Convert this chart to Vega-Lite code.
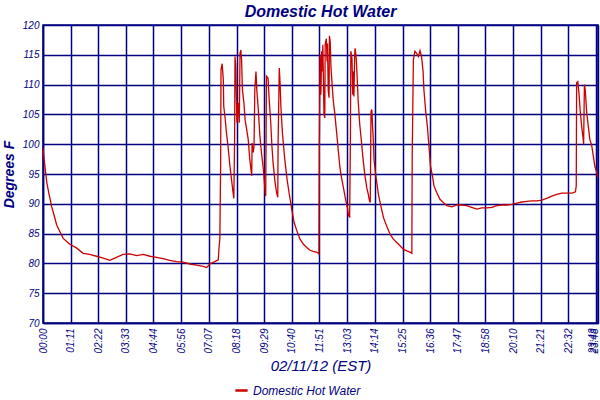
{
  "$schema": "https://vega.github.io/schema/vega-lite/v6.json",
  "width": 555,
  "height": 298,
  "autosize": {"type": "none"},
  "padding": {"left": 43, "top": 25, "right": 2, "bottom": 77},
  "background": "white",
  "title": {
    "text": "Domestic Hot Water",
    "font": "Liberation Sans",
    "fontSize": 16,
    "fontWeight": "bold",
    "fontStyle": "italic",
    "color": "#000080",
    "anchor": "middle",
    "offset": 0
  },
  "data": {
    "values": [
      {"minute": 0, "temp": 99.3}, {"minute": 3, "temp": 97.4}, {"minute": 6, "temp": 95.7},
      {"minute": 10, "temp": 93.5}, {"minute": 15, "temp": 91.8}, {"minute": 22, "temp": 89.6},
      {"minute": 28, "temp": 88.2}, {"minute": 35, "temp": 86.5}, {"minute": 43, "temp": 85.4},
      {"minute": 52, "temp": 84.2}, {"minute": 69, "temp": 83.2}, {"minute": 86, "temp": 82.6},
      {"minute": 103, "temp": 81.7}, {"minute": 120, "temp": 81.5}, {"minute": 138, "temp": 81.2},
      {"minute": 155, "temp": 80.9}, {"minute": 172, "temp": 80.5}, {"minute": 189, "temp": 81.0},
      {"minute": 206, "temp": 81.5}, {"minute": 223, "temp": 81.6}, {"minute": 241, "temp": 81.3},
      {"minute": 258, "temp": 81.5}, {"minute": 275, "temp": 81.2}, {"minute": 292, "temp": 81.0},
      {"minute": 309, "temp": 80.8}, {"minute": 326, "temp": 80.5}, {"minute": 344, "temp": 80.3},
      {"minute": 361, "temp": 80.2}, {"minute": 378, "temp": 79.9}, {"minute": 395, "temp": 79.7},
      {"minute": 412, "temp": 79.5}, {"minute": 421, "temp": 79.3}, {"minute": 429, "temp": 79.9},
      {"minute": 442, "temp": 80.3}, {"minute": 451, "temp": 80.6}, {"minute": 453, "temp": 82.7},
      {"minute": 455, "temp": 84.1}, {"minute": 457, "temp": 96.1}, {"minute": 458, "temp": 112.5},
      {"minute": 461, "temp": 113.5}, {"minute": 464, "temp": 110.8}, {"minute": 465, "temp": 106.4},
      {"minute": 469, "temp": 104.1}, {"minute": 472, "temp": 101.9}, {"minute": 476, "temp": 99.7},
      {"minute": 481, "temp": 96.3}, {"minute": 485, "temp": 94.1}, {"minute": 489, "temp": 91.9},
      {"minute": 491, "temp": 90.9}, {"minute": 493, "temp": 100.8}, {"minute": 494, "temp": 114.7},
      {"minute": 496, "temp": 113.0}, {"minute": 499, "temp": 103.6}, {"minute": 502, "temp": 106.9},
      {"minute": 505, "temp": 103.6}, {"minute": 507, "temp": 115.3}, {"minute": 509, "temp": 115.8},
      {"minute": 511, "temp": 114.2}, {"minute": 513, "temp": 109.2}, {"minute": 517, "temp": 106.9},
      {"minute": 520, "temp": 104.1}, {"minute": 524, "temp": 102.5}, {"minute": 528, "temp": 100.8},
      {"minute": 532, "temp": 97.5}, {"minute": 537, "temp": 94.7}, {"minute": 538, "temp": 100.2},
      {"minute": 541, "temp": 98.6}, {"minute": 543, "temp": 99.7}, {"minute": 545, "temp": 109.2},
      {"minute": 548, "temp": 112.2}, {"minute": 550, "temp": 109.2}, {"minute": 554, "temp": 105.8},
      {"minute": 558, "temp": 101.4}, {"minute": 562, "temp": 98.6}, {"minute": 567, "temp": 95.8},
      {"minute": 571, "temp": 92.4}, {"minute": 573, "temp": 91.3}, {"minute": 575, "temp": 111.4},
      {"minute": 579, "temp": 111.1}, {"minute": 582, "temp": 107.5}, {"minute": 586, "temp": 103.6},
      {"minute": 589, "temp": 99.7}, {"minute": 592, "temp": 96.9}, {"minute": 597, "temp": 93.6},
      {"minute": 601, "temp": 91.9}, {"minute": 604, "temp": 91.1}, {"minute": 605, "temp": 100.8},
      {"minute": 608, "temp": 112.8}, {"minute": 610, "temp": 110.3}, {"minute": 612, "temp": 106.4},
      {"minute": 616, "temp": 101.9}, {"minute": 622, "temp": 97.5}, {"minute": 628, "temp": 94.1},
      {"minute": 633, "temp": 91.9}, {"minute": 640, "temp": 89.1}, {"minute": 646, "temp": 86.9},
      {"minute": 653, "temp": 85.5}, {"minute": 661, "temp": 84.1}, {"minute": 670, "temp": 83.2},
      {"minute": 678, "temp": 82.7}, {"minute": 687, "temp": 82.2}, {"minute": 695, "temp": 82.0},
      {"minute": 704, "temp": 81.9}, {"minute": 710, "temp": 81.6}, {"minute": 711, "temp": 99.4},
      {"minute": 713, "temp": 115.0}, {"minute": 715, "temp": 108.3}, {"minute": 717, "temp": 115.6},
      {"minute": 718, "temp": 112.2}, {"minute": 720, "temp": 116.7}, {"minute": 723, "temp": 105.0},
      {"minute": 725, "temp": 104.4}, {"minute": 726, "temp": 116.7}, {"minute": 729, "temp": 117.7},
      {"minute": 731, "temp": 113.9}, {"minute": 732, "temp": 116.9}, {"minute": 734, "temp": 108.9},
      {"minute": 736, "temp": 107.8}, {"minute": 737, "temp": 118.2}, {"minute": 739, "temp": 117.2},
      {"minute": 741, "temp": 112.8}, {"minute": 744, "temp": 110.0}, {"minute": 747, "temp": 107.2},
      {"minute": 751, "temp": 105.0}, {"minute": 756, "temp": 101.6}, {"minute": 760, "temp": 98.8},
      {"minute": 764, "temp": 96.1}, {"minute": 768, "temp": 94.4}, {"minute": 773, "temp": 92.7},
      {"minute": 777, "temp": 91.3}, {"minute": 781, "temp": 89.9}, {"minute": 784, "temp": 89.1},
      {"minute": 786, "temp": 88.0}, {"minute": 789, "temp": 87.8}, {"minute": 791, "temp": 101.1},
      {"minute": 792, "temp": 115.6}, {"minute": 795, "temp": 114.4}, {"minute": 797, "temp": 108.3},
      {"minute": 798, "temp": 112.2}, {"minute": 800, "temp": 108.0}, {"minute": 802, "temp": 115.0},
      {"minute": 803, "temp": 116.1}, {"minute": 806, "temp": 114.4}, {"minute": 808, "temp": 111.7},
      {"minute": 811, "temp": 107.2}, {"minute": 815, "temp": 103.3}, {"minute": 820, "temp": 100.0},
      {"minute": 824, "temp": 97.2}, {"minute": 828, "temp": 94.9}, {"minute": 833, "temp": 92.7},
      {"minute": 837, "temp": 91.6}, {"minute": 840, "temp": 90.5}, {"minute": 842, "temp": 90.2},
      {"minute": 844, "temp": 105.5}, {"minute": 846, "temp": 105.8}, {"minute": 847, "temp": 104.4},
      {"minute": 850, "temp": 100.5}, {"minute": 852, "temp": 97.2}, {"minute": 857, "temp": 94.4},
      {"minute": 863, "temp": 91.6}, {"minute": 869, "temp": 89.7}, {"minute": 876, "temp": 87.7},
      {"minute": 884, "temp": 86.3}, {"minute": 893, "temp": 84.9}, {"minute": 901, "temp": 84.1},
      {"minute": 910, "temp": 83.5}, {"minute": 918, "temp": 83.0}, {"minute": 927, "temp": 82.4},
      {"minute": 936, "temp": 82.1}, {"minute": 944, "temp": 81.9}, {"minute": 949, "temp": 81.7},
      {"minute": 950, "temp": 98.3}, {"minute": 953, "temp": 114.2}, {"minute": 957, "temp": 115.6},
      {"minute": 961, "temp": 115.3}, {"minute": 966, "temp": 114.7}, {"minute": 970, "temp": 115.7},
      {"minute": 974, "temp": 114.7}, {"minute": 978, "temp": 112.2}, {"minute": 980, "temp": 109.2},
      {"minute": 985, "temp": 105.3}, {"minute": 989, "temp": 103.0}, {"minute": 993, "temp": 99.7},
      {"minute": 997, "temp": 96.3}, {"minute": 1002, "temp": 94.7}, {"minute": 1006, "temp": 93.0},
      {"minute": 1013, "temp": 91.9}, {"minute": 1021, "temp": 90.8}, {"minute": 1030, "temp": 90.2},
      {"minute": 1039, "temp": 89.7}, {"minute": 1052, "temp": 89.5}, {"minute": 1065, "temp": 89.8},
      {"minute": 1077, "temp": 89.8}, {"minute": 1090, "temp": 89.7}, {"minute": 1103, "temp": 89.4},
      {"minute": 1116, "temp": 89.1}, {"minute": 1129, "temp": 89.3}, {"minute": 1142, "temp": 89.3},
      {"minute": 1155, "temp": 89.4}, {"minute": 1168, "temp": 89.7}, {"minute": 1180, "temp": 89.8},
      {"minute": 1193, "temp": 89.8}, {"minute": 1206, "temp": 89.9}, {"minute": 1219, "temp": 90.1},
      {"minute": 1232, "temp": 90.3}, {"minute": 1245, "temp": 90.4}, {"minute": 1258, "temp": 90.5},
      {"minute": 1271, "temp": 90.5}, {"minute": 1283, "temp": 90.6}, {"minute": 1296, "temp": 90.9},
      {"minute": 1309, "temp": 91.3}, {"minute": 1322, "temp": 91.6}, {"minute": 1335, "temp": 91.8},
      {"minute": 1348, "temp": 91.8}, {"minute": 1361, "temp": 91.8}, {"minute": 1370, "temp": 92.0},
      {"minute": 1372, "temp": 93.0}, {"minute": 1373, "temp": 110.3}, {"minute": 1376, "temp": 110.5},
      {"minute": 1379, "temp": 108.6}, {"minute": 1382, "temp": 105.8}, {"minute": 1386, "temp": 103.0},
      {"minute": 1390, "temp": 100.8}, {"minute": 1391, "temp": 100.0}, {"minute": 1393, "temp": 110.0},
      {"minute": 1395, "temp": 109.2}, {"minute": 1399, "temp": 105.3}, {"minute": 1403, "temp": 103.0},
      {"minute": 1407, "temp": 100.8}, {"minute": 1412, "temp": 99.7}, {"minute": 1416, "temp": 98.0},
      {"minute": 1420, "temp": 96.3}, {"minute": 1425, "temp": 95.2}, {"minute": 1428, "temp": 94.4}
    ]
  },
  "mark": {"type": "line", "strokeWidth": 1.3, "interpolate": "linear"},
  "encoding": {
    "x": {
      "field": "minute",
      "type": "quantitative",
      "scale": {"domain": [0, 1428], "nice": false, "zero": false},
      "axis": {
        "title": "02/11/12 (EST)",
        "values": [0, 71, 142, 213, 284, 356, 427, 498, 569, 640, 711, 783, 854, 925, 996, 1067, 1138, 1210, 1281, 1352, 1423, 1428],
        "labelExpr": "format(floor(datum.value/60),'02d') + ':' + format(datum.value%60,'02d')",
        "labelAngle": -90,
        "labelAlign": "right",
        "labelBaseline": "middle",
        "labelOffset": {"condition": {"test": "datum.value >= 1423", "value": -4}, "value": 0},
        "labelOverlap": false,
        "labelPadding": 5,
        "labelFlush": false,
        "labelFontStyle": "italic",
        "titleFont": "Liberation Sans",
        "titleFontSize": 15,
        "titleFontStyle": "italic",
        "titleFontWeight": "normal",
        "titlePadding": 5
      }
    },
    "y": {
      "field": "temp",
      "type": "quantitative",
      "scale": {"domain": [70, 120], "nice": false, "zero": false},
      "axis": {
        "title": "Degrees F",
        "values": [70, 75, 80, 85, 90, 95, 100, 105, 110, 115, 120],
        "labelFontStyle": "italic",
        "labelPadding": 4,
        "titleFont": "Liberation Sans",
        "titleFontSize": 14,
        "titleFontStyle": "italic",
        "titleFontWeight": "bold",
        "titlePadding": 6
      }
    },
    "color": {
      "datum": "Domestic Hot Water",
      "type": "nominal",
      "scale": {"range": ["#cc0000"]},
      "legend": {
        "title": null,
        "orient": "none",
        "legendX": 191,
        "legendY": 358,
        "symbolType": "stroke",
        "symbolStrokeWidth": 2.5,
        "symbolSize": 150,
        "labelFont": "Liberation Sans",
        "labelFontSize": 12,
        "labelFontStyle": "italic",
        "labelColor": "#000080"
      }
    }
  },
  "config": {
    "view": {"stroke": "#000080", "strokeWidth": 1.5},
    "axis": {
      "grid": true,
      "gridColor": "#000080",
      "gridWidth": 1.5,
      "gridOpacity": 1,
      "domainColor": "#000080",
      "domainWidth": 1.5,
      "ticks": false,
      "labelFont": "Liberation Sans",
      "labelFontSize": 10,
      "labelColor": "#000080",
      "titleColor": "#000080"
    }
  }
}
